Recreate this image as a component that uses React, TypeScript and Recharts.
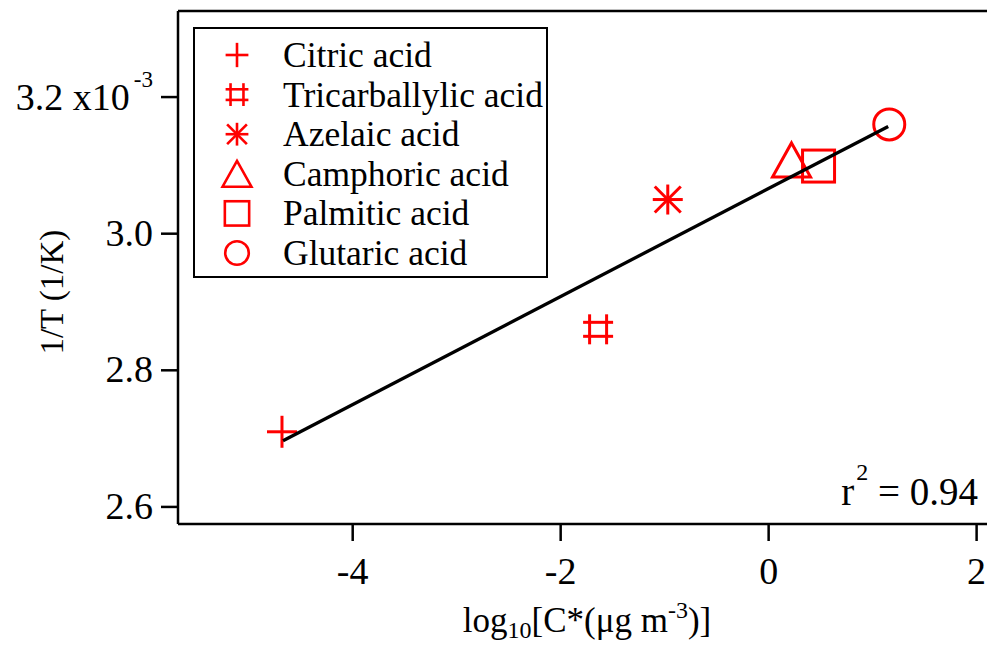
import {
  Customized,
  Legend,
  ReferenceLine,
  Scatter,
  ScatterChart,
  XAxis,
  YAxis,
} from 'recharts'

const acidNames = [
  'Citric acid',
  'Tricarballylic acid',
  'Azelaic acid',
  'Camphoric acid',
  'Palmitic acid',
  'Glutaric acid',
]
const markerKinds = ['plus', 'hash', 'asterisk', 'triangle', 'square', 'circle']
// log10 C* (µg m-3)
const logCStar = [-4.68, -1.64, -0.97, 0.22, 0.48, 1.16]
// 1/T in units of 1e-3 K^-1
const inverseT = [2.71, 2.86, 3.05, 3.108, 3.099, 3.16]

const fitX = [-4.67, 1.15]
const fitY = [2.697, 3.157]

const xTicks = [-4, -2, 0, 2]
const yTicks = [2.6, 2.8, 3.0, 3.2]
const xDomain = [-5.68, 2.6]
const yDomain = [2.575, 3.326]

const serif = '"Liberation Serif", "Times New Roman", serif'
const red = '#ff0000'

const fitData = fitX.map((x, i) => ({ x, y: fitY[i] }))

function drawMarker(kind: string, cx: number, cy: number, k: number, sw: number) {
  const p = { stroke: red, strokeWidth: sw, fill: 'none' }
  if (kind === 'plus') {
    return (
      <g {...p}>
        <line x1={cx - 15 * k} y1={cy} x2={cx + 15 * k} y2={cy} />
        <line x1={cx} y1={cy - 16 * k} x2={cx} y2={cy + 16 * k} />
      </g>
    )
  }
  if (kind === 'hash') {
    return (
      <g {...p}>
        <line x1={cx - 8.5 * k} y1={cy - 15 * k} x2={cx - 8.5 * k} y2={cy + 15 * k} />
        <line x1={cx + 8.5 * k} y1={cy - 15 * k} x2={cx + 8.5 * k} y2={cy + 15 * k} />
        <line x1={cx - 15 * k} y1={cy - 7 * k} x2={cx + 15 * k} y2={cy - 7 * k} />
        <line x1={cx - 15 * k} y1={cy + 7 * k} x2={cx + 15 * k} y2={cy + 7 * k} />
      </g>
    )
  }
  if (kind === 'asterisk') {
    return (
      <g {...p}>
        <line x1={cx - 15 * k} y1={cy} x2={cx + 15 * k} y2={cy} />
        <line x1={cx} y1={cy - 15 * k} x2={cx} y2={cy + 15 * k} />
        <line x1={cx - 13 * k} y1={cy - 13 * k} x2={cx + 13 * k} y2={cy + 13 * k} />
        <line x1={cx - 13 * k} y1={cy + 13 * k} x2={cx + 13 * k} y2={cy - 13 * k} />
      </g>
    )
  }
  if (kind === 'triangle') {
    const pts = `${cx},${cy - 17 * k} ${cx + 19 * k},${cy + 17 * k} ${cx - 19 * k},${cy + 17 * k}`
    return <polygon points={pts} {...p} />
  }
  if (kind === 'square') {
    return <rect x={cx - 16 * k} y={cy - 16 * k} width={32 * k} height={32 * k} {...p} />
  }
  return <circle cx={cx} cy={cy} r={15.5 * k} {...p} />
}

function makeShape(kind: string) {
  return (props: any) => drawMarker(kind, props.cx, props.cy, 1, 3)
}

function noShape() {
  return <g />
}

function YTick(props: any) {
  const { x, y, payload } = props
  if (payload.value === 3.2) {
    return (
      <text x={x} y={y} dy={13} textAnchor="end" fontFamily={serif} fontSize={38} fill="#000">
        3.2 x10
        <tspan fontSize={23} dx={4} dy={-23}>-3</tspan>
      </text>
    )
  }
  return (
    <text x={x} y={y} dy={12} textAnchor="end" fontFamily={serif} fontSize={38} fill="#000">
      {payload.value.toFixed(1)}
    </text>
  )
}

function XTick(props: any) {
  const { x, y, payload } = props
  return (
    <text x={x} y={y} dy={41} textAnchor="middle" fontFamily={serif} fontSize={38} fill="#000">
      {payload.value}
    </text>
  )
}

function YTitle(props: any) {
  const vb = props.viewBox
  const cx = 52
  const cy = vb.y + vb.height * 0.548
  return (
    <text
      x={cx}
      y={cy}
      transform={`rotate(-90 ${cx} ${cy})`}
      textAnchor="middle"
      dominantBaseline="central"
      fontFamily={serif}
      fontSize={33}
      fill="#000"
    >
      1/T (1/K)
    </text>
  )
}

function XTitle(props: any) {
  const vb = props.viewBox
  return (
    <text x={vb.x + 409} y={vb.y + 108} textAnchor="middle" fontFamily={serif} fontSize={35} fill="#000">
      log
      <tspan fontSize={24} dy={6}>10</tspan>
      <tspan dy={-6}>[C*(μg m</tspan>
      <tspan fontSize={24} dy={-14}>-3</tspan>
      <tspan dy={14}>)]</tspan>
    </text>
  )
}

function RSquared() {
  return (
    <text x={978} y={505} textAnchor="end" fontFamily={serif} fontSize={39} fill="#000">
      r<tspan fontSize={24} dx={2} dy={-25}>2</tspan>
      <tspan dy={25}> = 0.94</tspan>
    </text>
  )
}

function renderLegend() {
  return (
    <div
      style={{
        width: 355,
        height: 251,
        border: '2px solid #000',
        boxSizing: 'border-box',
        background: '#fff',
      }}
    >
      <svg width={351} height={247} style={{ display: 'block' }}>
        {acidNames.map((name, i) => {
          const cy = 26 + i * 39.6
          return (
            <g key={name}>
              {drawMarker(markerKinds[i], 42, cy, 0.76, 2.6)}
              <text x={88} y={cy + 12} fontFamily={serif} fontSize={35.5} fill="#000">
                {name}
              </text>
            </g>
          )
        })}
      </svg>
    </div>
  )
}

export default function App() {
  return (
    <div
      style={{
        position: 'absolute',
        left: 0,
        top: 0,
        width: 987,
        height: 648,
        overflow: 'hidden',
        background: '#fff',
      }}
    >
      <ScatterChart width={1050} height={648} margin={{ top: 11, right: 11, bottom: 0, left: 0 }}>
        <XAxis
          type="number"
          dataKey="x"
          domain={xDomain}
          ticks={xTicks}
          allowDataOverflow
          height={124}
          tickSize={17}
          tickMargin={2}
          stroke="#000"
          strokeWidth={2.5}
          tick={<XTick />}
          label={<XTitle />}
        />
        <YAxis
          type="number"
          dataKey="y"
          domain={yDomain}
          ticks={yTicks}
          allowDataOverflow
          width={178}
          tickSize={17}
          tickMargin={8}
          stroke="#000"
          strokeWidth={2.5}
          tick={<YTick />}
          label={<YTitle />}
        />
        <ReferenceLine y={yDomain[1]} stroke="#000" strokeWidth={2.5} />
        <ReferenceLine x={xDomain[1]} stroke="#000" strokeWidth={2.5} />
        {acidNames.map((name, i) => (
          <Scatter
            key={name}
            name={name}
            data={[{ x: logCStar[i], y: inverseT[i] }]}
            shape={makeShape(markerKinds[i])}
            isAnimationActive={false}
          />
        ))}
        <Scatter
          name="fit"
          data={fitData}
          line={{ stroke: '#000', strokeWidth: 3.3 }}
          shape={noShape}
          isAnimationActive={false}
        />
        <Legend
          layout="vertical"
          align="center"
          verticalAlign="middle"
          content={renderLegend}
          wrapperStyle={{ left: 193, top: 27, width: 355, height: 251 }}
        />
        <Customized component={RSquared} />
      </ScatterChart>
    </div>
  )
}
